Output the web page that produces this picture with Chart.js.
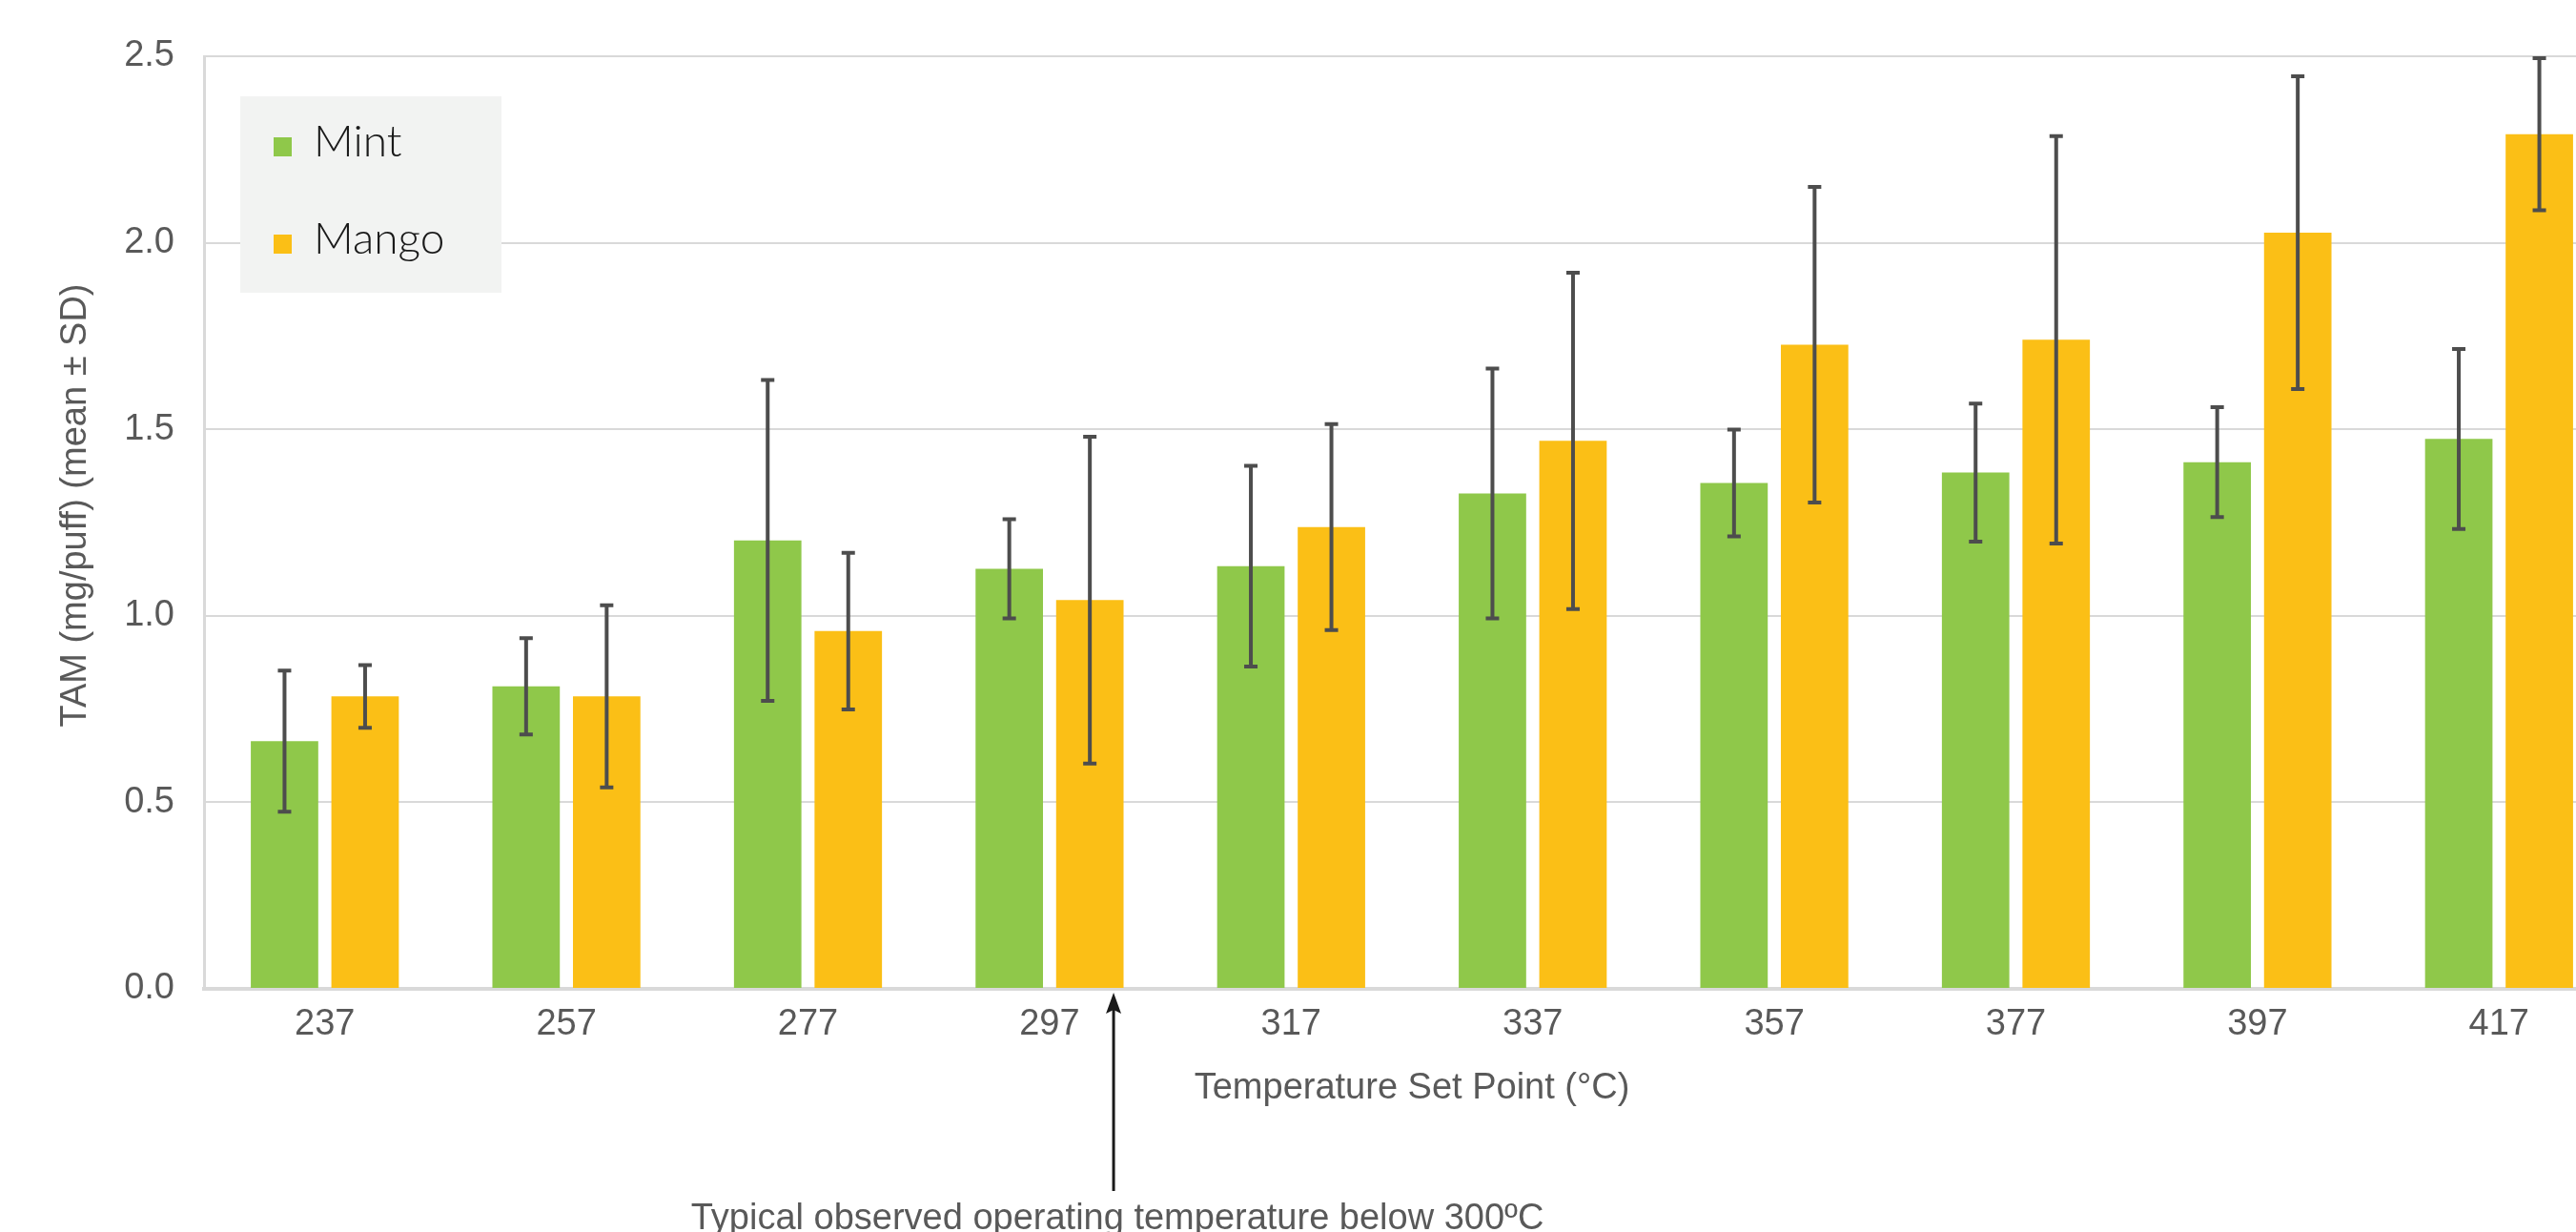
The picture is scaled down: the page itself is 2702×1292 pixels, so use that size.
<!DOCTYPE html>
<html>
<head>
<meta charset="utf-8">
<script src="https://cdn.jsdelivr.net/npm/chart.js@4.4.1/dist/chart.umd.min.js"></script>
<style>
  html, body { margin: 0; padding: 0; background: #fff; overflow: hidden; }
  #wrap { width: 2760px; height: 1292px; }
</style>
</head>
<body>
<div id="wrap"><canvas id="tamChart" width="2760" height="1292"></canvas></div>
<script>
/* ---------------------------------------------------
   data
----------------------------------------------------- */
var temperatures = ['237', '257', '277', '297', '317', '337', '357', '377', '397', '417'];
var mintMean  = [0.664, 0.811, 1.202, 1.126, 1.133, 1.328, 1.356, 1.384, 1.412, 1.474];
var mintSD    = [0.189, 0.129, 0.430, 0.133, 0.269, 0.335, 0.143, 0.185, 0.147, 0.241];
var mangoMean = [0.784, 0.784, 0.959, 1.042, 1.238, 1.469, 1.727, 1.740, 2.027, 2.291];
var mangoSD   = [0.084, 0.244, 0.210, 0.438, 0.276, 0.451, 0.423, 0.546, 0.419, 0.204];
var yTicks    = [0, 0.5, 1.0, 1.5, 2.0, 2.5];

var axisFont = "'Liberation Sans', Arial, Helvetica, sans-serif";
var textGrey = '#595959';
var lineGrey = '#d9d9d9';

/* ---------------------------------------------------
   error bars (mean ± SD)
----------------------------------------------------- */
var errorBars = {
    id: 'errorBars',
    afterDatasetsDraw: function (chart) {
        var ctx = chart.ctx;
        var yScale = chart.scales.y;
        ctx.save();
        ctx.strokeStyle = '#4d4d4d';
        ctx.lineWidth = 4;
        chart.data.datasets.forEach(function (ds, d) {
            var meta = chart.getDatasetMeta(d);
            meta.data.forEach(function (bar, i) {
                var top = yScale.getPixelForValue(ds.data[i] + ds.sd[i]);
                var bottom = yScale.getPixelForValue(ds.data[i] - ds.sd[i]);
                ctx.beginPath();
                ctx.moveTo(bar.x, top);
                ctx.lineTo(bar.x, bottom);
                ctx.moveTo(bar.x - 7, top);
                ctx.lineTo(bar.x + 7, top);
                ctx.moveTo(bar.x - 7, bottom);
                ctx.lineTo(bar.x + 7, bottom);
                ctx.stroke();
            });
        });
        ctx.restore();
    }
};

/* ---------------------------------------------------
   legend box inside the plot + y title
----------------------------------------------------- */
var boxLegend = {
    id: 'boxLegend',
    afterDraw: function (chart) {
        var ctx = chart.ctx;
        var area = chart.chartArea;
        var bx = area.left + 38, by = area.top + 42;
        ctx.save();
        ctx.fillStyle = '#f2f3f2';
        ctx.fillRect(bx, by, 274, 206);
        ctx.font = "300 46px Lato, 'Open Sans', sans-serif";
        ctx.textBaseline = 'alphabetic';
        chart.data.datasets.forEach(function (ds, d) {
            var base = by + 63 + d * 102;
            ctx.fillStyle = ds.backgroundColor;
            ctx.fillRect(bx + 35, base - 20, 19, 20);
            ctx.fillStyle = '#1a1a1a';
            ctx.fillText(ds.label, bx + 77, base);
        });
        // y axis title
        ctx.translate(80, 530);
        ctx.rotate(-Math.PI / 2);
        ctx.fillStyle = textGrey;
        ctx.font = '38px ' + axisFont;
        ctx.textAlign = 'center';
        ctx.textBaseline = 'middle';
        ctx.fillText('TAM (mg/puff) (mean ± SD)', 0, 0);
        ctx.restore();
    }
};

/* ---------------------------------------------------
   arrow + note under the axis
----------------------------------------------------- */
var operatingNote = {
    id: 'operatingNote',
    afterDraw: function (chart) {
        var ctx = chart.ctx;
        var xScale = chart.scales.x;
        var p3 = xScale.getPixelForValue(3), p4 = xScale.getPixelForValue(4);
        var ax = p3 + 0.265 * (p4 - p3);
        var tip = chart.chartArea.bottom + 4;
        ctx.save();
        ctx.strokeStyle = '#1a1a1a';
        ctx.fillStyle = '#1a1a1a';
        ctx.lineWidth = 3;
        ctx.beginPath();
        ctx.moveTo(ax, 1249);
        ctx.lineTo(ax, tip + 16);
        ctx.stroke();
        ctx.beginPath();
        ctx.moveTo(ax, tip);
        ctx.lineTo(ax - 8, tip + 22);
        ctx.lineTo(ax, tip + 18);
        ctx.lineTo(ax + 8, tip + 22);
        ctx.closePath();
        ctx.fill();
        ctx.fillStyle = textGrey;
        ctx.font = '38px ' + axisFont;
        ctx.textAlign = 'center';
        ctx.textBaseline = 'alphabetic';
        ctx.fillText('Typical observed operating temperature below 300ºC', ax + 4, 1289);
        ctx.restore();
    }
};

/* ---------------------------------------------------
   chart
----------------------------------------------------- */
var ctx = document.getElementById('tamChart').getContext('2d');
var tamChart = new Chart(ctx, {
    type: 'bar',
    data: {
        labels: temperatures,
        datasets: [
            { label: 'Mint', data: mintMean, sd: mintSD, backgroundColor: '#8fc84a', borderWidth: 0 },
            { label: 'Mango', data: mangoMean, sd: mangoSD, backgroundColor: '#fbbf16', borderWidth: 0 }
        ]
    },
    options: {
        responsive: false,
        animation: false,
        devicePixelRatio: 1,
        categoryPercentage: 0.667,
        barPercentage: 0.837,
        layout: { padding: { top: 59, right: 12, left: 0, bottom: 0 } },
        plugins: {
            legend: { display: false },
            tooltip: { enabled: false }
        },
        scales: {
            x: {
                grid: { display: false, drawTicks: false },
                border: { display: true, color: lineGrey, width: 4 },
                ticks: { color: textGrey, font: { family: axisFont, size: 38 }, padding: 15 },
                title: {
                    display: true,
                    text: 'Temperature Set Point (°C)',
                    color: textGrey,
                    font: { family: axisFont, size: 38 },
                    padding: { top: 0, bottom: 128 }
                },
                afterFit: function (scale) { scale.height = 255; }
            },
            y: {
                min: 0,
                max: 2.5,
                afterBuildTicks: function (axis) {
                    axis.ticks = yTicks.map(function (v) { return { value: v }; });
                },
                grid: { color: lineGrey, lineWidth: 2, drawTicks: false },
                border: { display: true, color: lineGrey, width: 3 },
                ticks: {
                    color: textGrey,
                    font: { family: axisFont, size: 38 },
                    padding: 31,
                    callback: function (v) { return Number(v).toFixed(1); }
                },
                title: { display: false },
                afterFit: function (scale) { scale.width = 214; }
            }
        }
    },
    plugins: [errorBars, boxLegend, operatingNote]
});
</script>
</body>
</html>
